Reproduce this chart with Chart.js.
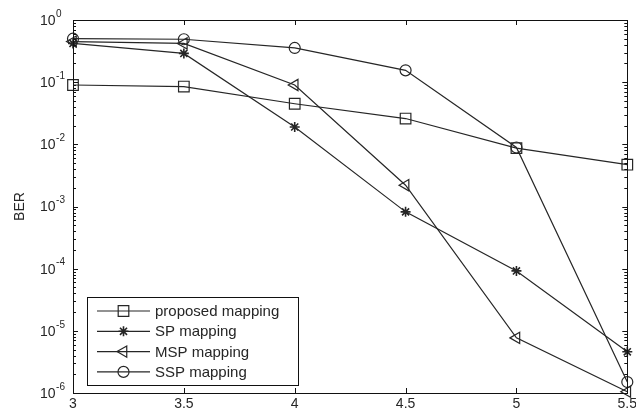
<!DOCTYPE html>
<html><head><meta charset="utf-8">
<script src="https://cdn.jsdelivr.net/npm/chart.js@4.4.0/dist/chart.umd.min.js"></script>
<style>html,body{margin:0;padding:0;background:#fff;overflow:hidden}canvas{display:block}</style>
</head><body>
<canvas id="c" width="636" height="410"></canvas>
<script>
// ---- data ----
const snrValues   = [3, 3.5, 4, 4.5, 5, 5.5];
const proposedBER = [0.09, 0.085, 0.045, 0.026, 0.0087, 0.0047];
const spBER       = [0.42, 0.29, 0.019, 0.00082, 0.000092, 0.0000046];
const mspBER      = [0.45, 0.42, 0.09, 0.0022, 0.0000077, 0.00000105];
const sspBER      = [0.50, 0.49, 0.355, 0.155, 0.0089, 0.0000015];
const seriesNames = ['proposed mapping', 'SP mapping', 'MSP mapping', 'SSP mapping'];
const xTickValues = [3, 3.5, 4, 4.5, 5, 5.5];
const yDecades    = [0, -1, -2, -3, -4, -5, -6];
const yAxisTitle  = 'BER';

const FONT = '"Liberation Sans", Arial, Helvetica, sans-serif';
const INK = '#262626';
const markerStyles = [
  {pointStyle: 'rect', radius: 7.5, rotation: 0},
  {pointStyle: 'star', radius: 5, rotation: 0},
  {pointStyle: 'triangle', radius: 6.5, rotation: -90},
  {pointStyle: 'circle', radius: 5.5, rotation: 0}
];
const seriesData = [proposedBER, spBER, mspBER, sspBER];

const datasets = seriesData.map((vals, i) => ({
  label: seriesNames[i],
  data: snrValues.map((x, j) => ({x: x, y: vals[j]})),
  borderColor: INK,
  borderWidth: 1.2,
  tension: 0,
  fill: false,
  clip: false,
  pointStyle: markerStyles[i].pointStyle,
  pointRadius: markerStyles[i].radius,
  pointRotation: markerStyles[i].rotation,
  pointBorderColor: INK,
  pointBackgroundColor: 'rgba(0,0,0,0)',
  pointBorderWidth: i === 1 ? 1.6 : 1.2
}));

function drawMarker(ctx, style, x, y) {
  if (Chart.helpers && Chart.helpers.drawPoint) {
    Chart.helpers.drawPoint(ctx, {pointStyle: style.pointStyle, radius: style.radius, rotation: style.rotation, borderWidth: 1.2}, x, y);
  }
}

const matlabFrame = {
  id: 'matlabFrame',
  afterDraw(chart) {
    const ctx = chart.ctx;
    const a = chart.chartArea;
    const xs = chart.scales.x, ys = chart.scales.y;
    ctx.save();
    ctx.strokeStyle = '#111';
    ctx.lineWidth = 1;
    // box
    ctx.strokeRect(Math.round(a.left) + 0.5, Math.round(a.top) + 0.5, Math.round(a.right - a.left), Math.round(a.bottom - a.top));
    // x inner ticks
    ctx.beginPath();
    xTickValues.forEach(v => {
      const px = Math.round(xs.getPixelForValue(v)) + 0.5;
      ctx.moveTo(px, a.bottom); ctx.lineTo(px, a.bottom - 5);
      ctx.moveTo(px, a.top); ctx.lineTo(px, a.top + 5);
    });
    // y inner ticks (major + minor)
    yDecades.forEach(e => {
      const py = Math.round(ys.getPixelForValue(Math.pow(10, e))) + 0.5;
      ctx.moveTo(a.left, py); ctx.lineTo(a.left + 5, py);
      ctx.moveTo(a.right, py); ctx.lineTo(a.right - 5, py);
      if (e < 0) {
        for (let m = 2; m <= 9; m++) {
          const pm = Math.round(ys.getPixelForValue(m * Math.pow(10, e))) + 0.5;
          ctx.moveTo(a.left, pm); ctx.lineTo(a.left + 3, pm);
          ctx.moveTo(a.right, pm); ctx.lineTo(a.right - 3, pm);
        }
      }
    });
    ctx.stroke();
    // y tick labels 10^e
    ctx.fillStyle = INK;
    yDecades.forEach(e => {
      const py = ys.getPixelForValue(Math.pow(10, e));
      ctx.font = '14px ' + FONT;
      ctx.textAlign = 'left';
      ctx.textBaseline = 'middle';
      ctx.fillText('10', 40, py + 1);
      const w = ctx.measureText('10').width;
      ctx.font = '10px ' + FONT;
      ctx.fillText(String(e), 40 + w + 0.5, py - 6);
    });
    // legend
    const lx = 87, ly = 297, lw = 211, lh = 88;
    ctx.fillStyle = '#fff';
    ctx.fillRect(lx, ly, lw, lh);
    ctx.strokeStyle = '#111';
    ctx.strokeRect(lx + 0.5, ly + 0.5, lw, lh);
    seriesNames.forEach((name, i) => {
      const ry = 311 + i * 20.3;
      ctx.strokeStyle = INK;
      ctx.lineWidth = 1.2;
      ctx.beginPath();
      ctx.moveTo(97, ry); ctx.lineTo(150, ry);
      ctx.stroke();
      ctx.fillStyle = 'rgba(0,0,0,0)';
      ctx.lineWidth = i === 1 ? 1.6 : 1.2;
      drawMarker(ctx, markerStyles[i], 123.5, ry);
      ctx.fillStyle = INK;
      ctx.font = '15px ' + FONT;
      ctx.textAlign = 'left';
      ctx.textBaseline = 'middle';
      ctx.fillText(name, 155, ry + 1);
    });
    ctx.restore();
  }
};

new Chart(document.getElementById('c'), {
  type: 'line',
  data: {datasets: datasets},
  plugins: [matlabFrame],
  options: {
    responsive: false,
    animation: false,
    devicePixelRatio: 1,
    layout: {padding: {top: 20, right: 6, bottom: 0, left: 0}},
    plugins: {legend: {display: false}, tooltip: {enabled: false}},
    scales: {
      x: {
        type: 'linear',
        min: 3, max: 5.5,
        grid: {display: false, drawTicks: false},
        border: {display: true, color: '#111'},
        ticks: {
          stepSize: 0.5,
          color: INK,
          font: {family: FONT, size: 14},
          padding: 3,
          maxRotation: 0,
          callback: v => String(v)
        },
        afterFit: s => { s.paddingRight = 0; s.paddingLeft = 0; s.height = 17; }
      },
      y: {
        type: 'logarithmic',
        min: 1e-6, max: 1,
        grid: {display: false, drawTicks: false},
        border: {display: true, color: '#111'},
        ticks: {display: false},
        afterBuildTicks: s => { s.ticks = yDecades.map(e => ({value: Math.pow(10, e)})); },
        title: {display: true, text: yAxisTitle, color: INK, font: {family: FONT, size: 14}, padding: {top: 12, bottom: 0}},
        afterFit: s => { s.width = 73; }
      }
    }
  }
});
</script>
</body></html>
